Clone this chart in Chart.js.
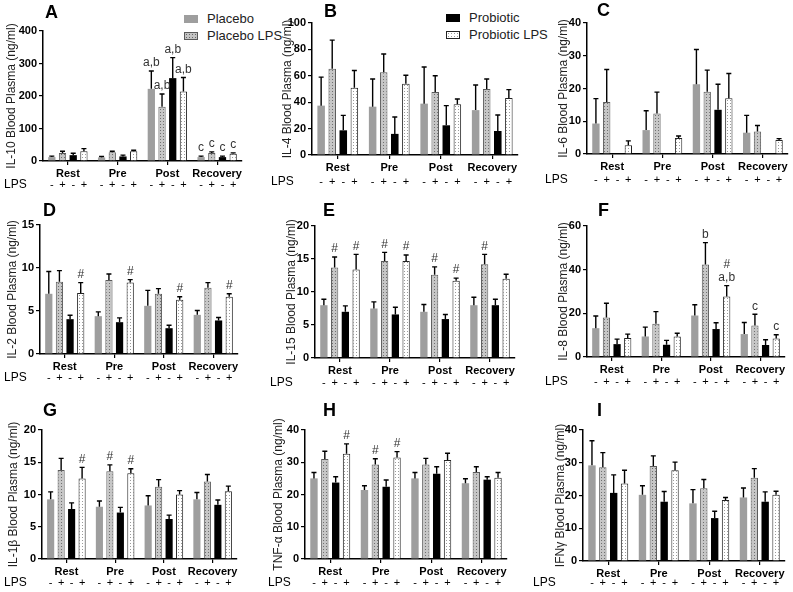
<!DOCTYPE html>
<html>
<head>
<meta charset="utf-8">
<script src="https://cdn.jsdelivr.net/npm/chart.js@4.4.1/dist/chart.umd.min.js"></script>
<style>
  body { margin: 0; background: #fff; width: 793px; height: 592px; position: relative; overflow: hidden; font-family: "Liberation Sans", Arial, sans-serif; }
  canvas { position: absolute; }
  .letter { position: absolute; font-weight: bold; font-size: 18px; line-height: 18px; color: #000; }
  .legend { position: absolute; font-size: 13px; color: #222; }
  .legend div { display: flex; align-items: center; height: 17px; }
  .sw { width: 14px; height: 8px; margin-right: 9px; box-sizing: border-box; }
  .sw.placebo { background: #9e9e9e; }
  .sw.plps { background-color: #c4c4c4; background-image: radial-gradient(#666 35%, transparent 40%); background-size: 3px 3px; border: 1px solid #5a5a5a; }
  .sw.pro { background: #000; }
  .sw.prolps { background-color: #fff; background-image: radial-gradient(#999 35%, transparent 40%); background-size: 3px 3px; border: 1px solid #222; }
</style>
</head>
<body>
<div class="legend" style="left:184px; top:10px;">
  <div><span class="sw placebo"></span>Placebo</div>
  <div><span class="sw plps"></span>Placebo LPS</div>
</div>
<div class="legend" style="left:446px; top:9px;">
  <div><span class="sw pro"></span>Probiotic</div>
  <div><span class="sw prolps"></span>Probiotic LPS</div>
</div>
<script>
const timepoints = ["Rest", "Pre", "Post", "Recovery"];
const groups = ["Placebo", "Placebo LPS", "Probiotic", "Probiotic LPS"];
const lpsSigns = ["-", "+", "-", "+"];

// means and SEM, one row per group (Placebo, Placebo LPS, Probiotic, Probiotic LPS)
const il10Mean = [[12, 11, 222, 12], [25, 27, 167, 25], [18, 14, 255, 12], [30, 30, 214, 22]];
const il10Sem = [[3, 3, 55, 3], [5, 3, 39, 3], [6, 4, 63, 3], [8, 3, 43, 3]];
const il10Marks = [["", "", "a,b", "c"], ["", "", "a,b", "c"], ["", "", "a,b", "c"], ["", "", "a,b", "c"]];

const il4Mean = [[37.4, 36.6, 38.9, 34], [65.4, 62.6, 47.7, 50], [18.7, 16, 22.5, 18.2], [51, 54, 38.4, 43.2]];
const il4Sem = [[21.6, 21, 27.8, 19], [21.6, 13.9, 12.3, 7.6], [11.3, 12.8, 14.9, 12.1], [13, 6.4, 4, 6.3]];

const il6Mean = [[9.3, 7.3, 21.3, 6.5], [15.9, 12.4, 19.0, 6.9], [0, 0, 13.5, 0], [2.7, 4.9, 17.0, 4.3]];
const il6Sem = [[7.6, 5.9, 10.6, 5.3], [9.9, 6.5, 6.6, 1.8], [0, 0, 7.8, 0], [1.3, 0.6, 7.6, 0.4]];

const il2Mean = [[7.0, 4.4, 5.6, 4.55], [8.4, 8.6, 7.0, 7.7], [4.05, 3.7, 3.0, 3.9], [7.1, 8.3, 6.3, 6.65]];
const il2Sem = [[2.6, 0.5, 1.8, 0.5], [1.3, 0.7, 0.6, 0.6], [0.45, 0.5, 0.35, 0.35], [1.2, 0.35, 0.35, 0.35]];
const il2Marks = [["", "", "", ""], ["", "", "", ""], ["", "", "", ""], ["#", "#", "#", "#"]];

const il15Mean = [[8.0, 7.5, 7.0, 8.0], [13.7, 14.7, 12.6, 14.2], [7.0, 6.6, 5.9, 8.0], [13.4, 14.7, 11.7, 12.0]];
const il15Sem = [[0.9, 1.0, 1.1, 1.2], [1.6, 1.3, 1.2, 1.5], [0.9, 1.1, 0.7, 0.9], [2.3, 0.9, 0.4, 0.7]];
const il15Marks = [["", "", "", ""], ["#", "#", "#", "#"], ["", "", "", ""], ["#", "#", "#", ""]];

const il8Mean = [[13.2, 9.4, 19.0, 10.5], [18.1, 15.2, 42.4, 14.4], [5.9, 5.6, 12.8, 5.5], [8.7, 9.4, 27.7, 8.5]];
const il8Sem = [[5.6, 4.3, 4.9, 5.3], [6.5, 5.6, 10.0, 5.2], [2.3, 2.0, 2.9, 2.4], [1.8, 1.5, 5.0, 1.7]];
const il8Marks = [["", "", "", ""], ["", "", "b", "c"], ["", "", "", ""], ["", "", "#\na,b", "c"]];

const il1bMean = [[9.25, 8.1, 8.3, 9.25], [13.8, 13.6, 11.2, 12.0], [7.75, 7.2, 6.2, 8.4], [12.5, 13.3, 10.0, 10.5]];
const il1bSem = [[1.15, 0.9, 1.5, 1.05], [1.8, 1.0, 1.1, 1.1], [0.95, 0.8, 0.6, 0.75], [1.7, 0.7, 0.6, 0.8]];
const il1bMarks = [["", "", "", ""], ["", "#", "", ""], ["", "", "", ""], ["#", "#", "", ""]];

const tnfMean = [[25.0, 21.4, 25.0, 23.5], [31.0, 29.3, 29.3, 27.0], [23.7, 22.4, 26.4, 24.6], [32.6, 31.5, 30.7, 25.2]];
const tnfSem = [[1.8, 1.3, 1.8, 1.4], [2.4, 1.8, 1.9, 1.6], [1.8, 2.1, 2.2, 0.9], [3.1, 1.8, 2.1, 1.6]];
const tnfMarks = [["", "", "", ""], ["", "#", "", ""], ["", "", "", ""], ["#", "#", "", ""]];

const ifnMean = [[29.2, 20.2, 17.6, 19.4], [28.6, 29.0, 22.2, 25.4], [20.8, 18.1, 13.1, 18.1], [23.7, 27.7, 18.6, 20.2]];
const ifnSem = [[7.5, 2.8, 4.2, 2.9], [4.5, 3.1, 2.7, 2.8], [5.5, 3.1, 2.1, 3.0], [4.0, 2.5, 0.8, 1.1]];

const noMarks = [["", "", "", ""], ["", "", "", ""], ["", "", "", ""], ["", "", "", ""]];

const FONT = "'Liberation Sans', Arial, sans-serif";

// panel layout (page pixels)
const cols = [[0, 262], [262, 528], [528, 793]];
const rows = [[0, 195], [195, 392], [392, 592]];

const panels = [
  { letter: "A", col: 0, row: 0, title: "IL-10 Blood Plasma (ng/ml)", mean: il10Mean, sem: il10Sem, marks: il10Marks, max: 400, step: 100,
    axisX: 43, right: 242, top: 31, zero: 161, titleX: 11, lpsX: 4, lpsY: 185, lx: 45, ly: 12 },
  { letter: "B", col: 1, row: 0, title: "IL-4 Blood Plasma (ng/ml)", mean: il4Mean, sem: il4Sem, marks: noMarks, max: 100, step: 20,
    axisX: 312, right: 518, top: 23, zero: 155, titleX: 287, lpsX: 271, lpsY: 182, lx: 324, ly: 11 },
  { letter: "C", col: 2, row: 0, title: "IL-6 Blood Plasma (ng/ml)", mean: il6Mean, sem: il6Sem, marks: noMarks, max: 40, step: 10,
    axisX: 587, right: 788, top: 23, zero: 154, titleX: 563, lpsX: 545, lpsY: 180, lx: 597, ly: 10 },
  { letter: "D", col: 0, row: 1, title: "IL-2 Blood Plasma (ng/ml)", mean: il2Mean, sem: il2Sem, marks: il2Marks, max: 15, step: 5,
    axisX: 40, right: 238, top: 225, zero: 354, titleX: 12, lpsX: 4, lpsY: 378, lx: 43, ly: 210 },
  { letter: "E", col: 1, row: 1, title: "IL-15 Blood Plasma (ng/ml)", mean: il15Mean, sem: il15Sem, marks: il15Marks, max: 20, step: 5,
    axisX: 315, right: 515, top: 226, zero: 358, titleX: 291, lpsX: 270, lpsY: 383, lx: 323, ly: 210 },
  { letter: "F", col: 2, row: 1, title: "IL-8 Blood Plasma (ng/ml)", mean: il8Mean, sem: il8Sem, marks: il8Marks, max: 60, step: 20,
    axisX: 587, right: 785, top: 226, zero: 357, titleX: 563, lpsX: 545, lpsY: 382, lx: 598, ly: 210 },
  { letter: "G", col: 0, row: 2, title: "IL-1β Blood Plasma (ng/ml)", mean: il1bMean, sem: il1bSem, marks: il1bMarks, max: 20, step: 5,
    axisX: 42, right: 237, top: 430, zero: 559, titleX: 13, lpsX: 4, lpsY: 583, lx: 43, ly: 410 },
  { letter: "H", col: 1, row: 2, title: "TNF-α Blood Plasma (ng/ml)", mean: tnfMean, sem: tnfSem, marks: tnfMarks, max: 40, step: 10,
    axisX: 305, right: 507, top: 430, zero: 559, titleX: 278, lpsX: 268, lpsY: 583, lx: 323, ly: 410 },
  { letter: "I", col: 2, row: 2, title: "IFNγ Blood Plasma (ng/ml)", mean: ifnMean, sem: ifnSem, marks: noMarks, max: 40, step: 10,
    axisX: 583, right: 785, top: 430, zero: 561, titleX: 560, lpsX: 533, lpsY: 583, lx: 597, ly: 410 },
];

function dots(bg, dot) {
  const c = document.createElement("canvas");
  c.width = 3; c.height = 3;
  const g = c.getContext("2d");
  g.fillStyle = bg; g.fillRect(0, 0, 3, 3);
  g.fillStyle = dot; g.fillRect(1, 1, 1, 1);
  return g.createPattern(c, "repeat");
}

const barStyles = [
  { backgroundColor: "#9e9e9e", borderWidth: 0 },
  { backgroundColor: dots("#c6c6c6", "#707070"), borderColor: "#5a5a5a", borderWidth: 1 },
  { backgroundColor: "#000", borderWidth: 0 },
  { backgroundColor: dots("#ffffff", "#9a9a9a"), borderColor: "#222", borderWidth: 1 },
];

// error bars, significance letters and the LPS row
const extras = {
  id: "extras",
  afterDatasetsDraw(chart, args, opts) {
    const ctx = chart.ctx;
    const y = chart.scales.y;
    ctx.save();
    chart.data.datasets.forEach((ds, i) => {
      chart.getDatasetMeta(i).data.forEach((bar, j) => {
        const sem = opts.sem[i][j];
        const top = y.getPixelForValue(ds.data[j] + sem);
        if (sem > 0) {
          ctx.strokeStyle = "#000";
          ctx.lineWidth = 1.4;
          ctx.beginPath();
          ctx.moveTo(bar.x, bar.y);
          ctx.lineTo(bar.x, top);
          ctx.moveTo(bar.x - 2.5, top);
          ctx.lineTo(bar.x + 2.5, top);
          ctx.stroke();
        }
        const mark = opts.marks[i][j];
        if (mark) {
          ctx.fillStyle = "#333";
          ctx.font = "12px " + FONT;
          ctx.textAlign = "center";
          ctx.textBaseline = "bottom";
          mark.split("\n").reverse().forEach((line, k) => ctx.fillText(line, bar.x, top - 2 - k * 13));
        }
        ctx.fillStyle = "#000";
        ctx.font = "11px " + FONT;
        ctx.textAlign = "center";
        ctx.textBaseline = "middle";
        ctx.fillText(lpsSigns[i], bar.x, opts.lpsY);
      });
    });
    ctx.textAlign = "left";
    ctx.textBaseline = "middle";
    ctx.font = "12px " + FONT;
    ctx.fillStyle = "#000";
    ctx.fillText("LPS", opts.lpsX, opts.lpsY);
    ctx.restore();
  },
};

panels.forEach((p) => {
  const [left, rightEdge] = cols[p.col];
  const [topEdge, bottom] = rows[p.row];
  const w = rightEdge - left, h = bottom - topEdge;

  const canvas = document.createElement("canvas");
  canvas.width = w; canvas.height = h;
  canvas.style.left = left + "px"; canvas.style.top = topEdge + "px";
  canvas.style.width = w + "px"; canvas.style.height = h + "px";
  document.body.appendChild(canvas);

  const letter = document.createElement("div");
  letter.className = "letter";
  letter.textContent = p.letter;
  letter.style.left = p.lx + "px";
  letter.style.top = (p.ly - 9) + "px";
  document.body.appendChild(letter);

  const padLeft = p.titleX - 7 - left;

  new Chart(canvas, {
    type: "bar",
    data: {
      labels: timepoints,
      datasets: groups.map((g, i) => ({ label: g, data: p.mean[i], ...barStyles[i] })),
    },
    options: {
      responsive: false,
      animation: false,
      devicePixelRatio: 1,
      layout: { padding: { left: padLeft, top: p.top - topEdge, right: rightEdge - p.right, bottom: 0 } },
      datasets: { bar: { categoryPercentage: 0.86, barPercentage: 0.68 } },
      plugins: {
        legend: { display: false },
        tooltip: { enabled: false },
        extras: { sem: p.sem, marks: p.marks, lpsX: p.lpsX - left, lpsY: p.lpsY - topEdge },
      },
      scales: {
        x: {
          afterFit: (s) => { s.height = bottom - p.zero; },
          grid: { drawOnChartArea: false, offset: false, color: "#000", tickLength: 4, lineWidth: 1.2 },
          border: { color: "#000", width: 1.5 },
          ticks: { color: "#000", padding: 2, maxRotation: 0, autoSkip: false, font: { family: FONT, size: 11, weight: "bold" } },
        },
        y: {
          min: 0,
          max: p.max,
          afterFit: (s) => { s.width = p.axisX - left - padLeft; },
          grid: { drawOnChartArea: false, color: "#000", tickLength: 4, lineWidth: 1.2 },
          border: { color: "#000", width: 1.5 },
          ticks: { stepSize: p.step, autoSkip: false, color: "#000", padding: 2, font: { family: FONT, size: 11, weight: "bold" } },
          title: { display: true, text: p.title, color: "#222", padding: 0, font: { family: FONT, size: 12 } },
        },
      },
    },
    plugins: [extras],
  });
});
</script>
</body>
</html>
